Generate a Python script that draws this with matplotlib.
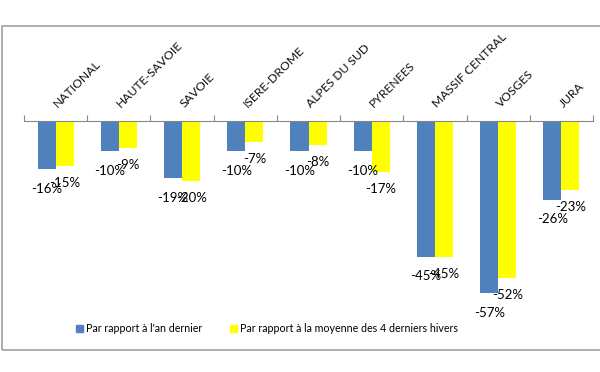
import numpy as np
import matplotlib.pyplot as plt
from matplotlib.patches import Rectangle, Patch

plt.rcParams['font.family'] = ['Lato', 'DejaVu Sans']

# data
regions = ["NATIONAL", "HAUTE-SAVOIE", "SAVOIE", "ISERE-DROME", "ALPES DU SUD",
           "PYRENEES", "MASSIF CENTRAL", "VOSGES", "JURA"]
vs_last_year = [-16, -10, -19, -10, -10, -10, -45, -57, -26]
vs_4_winters = [-15, -9, -20, -7, -8, -17, -45, -52, -23]

blue = "#4F81BD"
yellow = "#FFFF00"

fig = plt.figure(figsize=(6, 3.72), dpi=100)
# axes placed in pixels: x 24..593, y 26..320
ax = fig.add_axes([24 / 600, (372 - 320) / 372, (593 - 24) / 600, (320 - 26) / 372])

x = np.arange(len(regions))
w = 0.285
ax.bar(x - w / 2, vs_last_year, w, color=blue)
ax.bar(x + w / 2, vs_4_winters, w, color=yellow)

ax.set_xlim(-0.5, len(regions) - 0.5)
top = (121 - 26) / 3.02
bottom = -(320 - 121) / 3.02
ax.set_ylim(bottom, top)

for s in ['top', 'right', 'left']:
    ax.spines[s].set_visible(False)
ax.spines['bottom'].set_position(('data', 0))
ax.spines['bottom'].set_color('#868686')
ax.set_yticks([])
ax.set_xticks(np.arange(-0.5, len(regions)))
ax.set_xticklabels([])
ax.tick_params(axis='x', direction='in', length=4, color='#868686')

for i, name in enumerate(regions):
    ax.text(i + 0.04, 4.3, name, rotation=45, rotation_mode='anchor',
            ha='left', va='baseline', fontsize=8.7, color='#111111')

for i in range(len(regions)):
    ax.annotate(f"{vs_last_year[i]}%", (x[i] - w / 2, vs_last_year[i]),
                xytext=(0, -14), textcoords='offset points',
                ha='center', va='center', fontsize=9.5)
    ax.annotate(f"{vs_4_winters[i]}%", (x[i] + w / 2, vs_4_winters[i]),
                xytext=(0, -12), textcoords='offset points',
                ha='center', va='center', fontsize=9.5)

handles = [Patch(color=blue, label="Par rapport à l'an dernier"),
           Patch(color=yellow, label="Par rapport à la moyenne des 4 derniers hivers")]
fig.legend(handles=handles, loc='center', bbox_to_anchor=(0.445, (372 - 329) / 372),
           ncol=2, frameon=False, fontsize=7.7, handlelength=0.65, handleheight=0.65,
           handletextpad=0.3, columnspacing=2.6)

# outer chart border
fig.patches.append(Rectangle((2 / 600, (372 - 350) / 372), 1.1, 324 / 372,
                             transform=fig.transFigure, fill=False,
                             edgecolor='#a0a0a0', linewidth=1.2))

fig.savefig("out.png", dpi=100)
